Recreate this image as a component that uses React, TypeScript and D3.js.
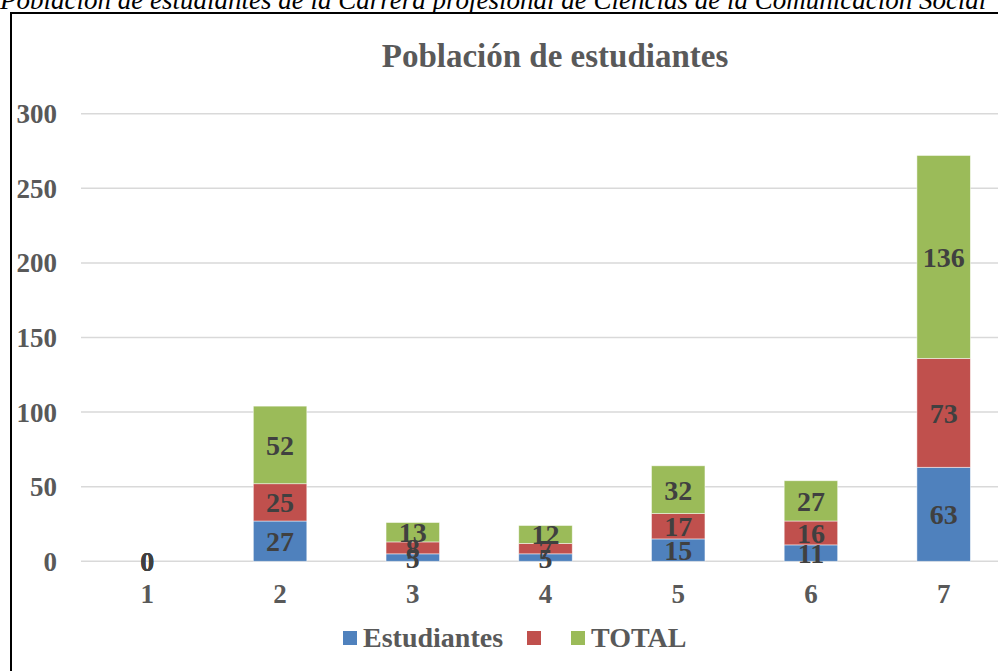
import React from "react"
import * as d3 from "d3"

const categories = ["1", "2", "3", "4", "5", "6", "7"]
const estudiantes = [0, 27, 5, 5, 15, 11, 63]
const serie2 = [0, 25, 8, 7, 17, 16, 73]
const total = [0, 52, 13, 12, 32, 27, 136]
const yTicks = [0, 50, 100, 150, 200, 250, 300]

const seriesKeys = ["Estudiantes", "serie2", "TOTAL"]
const legendLabels = ["Estudiantes", "", "TOTAL"]
const colors = ["#4F81BD", "#C0504D", "#9BBB59"]

const W = 998
const H = 671
const FONT = "'Liberation Serif', 'Times New Roman', serif"

const App = () => {
  const rows = categories.map((c, i) => ({
    cat: c,
    Estudiantes: estudiantes[i],
    serie2: serie2[i],
    TOTAL: total[i],
  }))

  const stacked = d3.stack<any>().keys(seriesKeys)(rows)

  const x = d3
    .scaleBand()
    .domain(categories)
    .range([81, 1010])
    .paddingInner(0.597)
    .paddingOuter(0.2985)

  const y = d3.scaleLinear().domain([0, 300]).range([561.3, 113.7])

  return (
    <svg
      width={W}
      height={H}
      style={{ position: "absolute", left: 0, top: 0, overflow: "hidden" }}
    >
      <rect x={0} y={0} width={W} height={H} fill="#fff" />
      <text
        x={0}
        y={9}
        fontFamily={FONT}
        fontStyle="italic"
        fontSize={27}
        fill="#000"
      >
        Población de estudiantes de la Carrera profesional de Ciencias de la Comunicación Social
      </text>
      <rect
        x={11}
        y={13}
        width={1000}
        height={700}
        fill="#fff"
        stroke="#000"
        strokeWidth={2}
      />
      <text
        x={555}
        y={67}
        textAnchor="middle"
        fontFamily={FONT}
        fontWeight="bold"
        fontSize={33}
        fill="#595959"
      >
        Población de estudiantes
      </text>

      {yTicks.map((t) => (
        <g key={t}>
          <line
            x1={81}
            x2={1010}
            y1={y(t)}
            y2={y(t)}
            stroke="#D9D9D9"
            strokeWidth={1.5}
          />
          <text
            x={57}
            y={y(t) + 9.5}
            textAnchor="end"
            fontFamily={FONT}
            fontWeight="bold"
            fontSize={27}
            fill="#595959"
          >
            {t}
          </text>
        </g>
      ))}

      {stacked.map((s, si) => (
        <g key={s.key}>
          {s.map((d, i) => (
            <rect
              key={i}
              x={x(categories[i])}
              y={y(d[1])}
              width={x.bandwidth()}
              height={y(d[0]) - y(d[1])}
              fill={colors[si]}
              stroke="#fff"
              strokeOpacity={0.6}
              strokeWidth={0.8}
            />
          ))}
        </g>
      ))}

      {stacked.map((s) => (
        <g key={"lab" + s.key}>
          {s.map((d, i) => (
            <text
              key={i}
              x={(x(categories[i]) as number) + x.bandwidth() / 2}
              y={(y(d[0]) + y(d[1])) / 2 + 10}
              textAnchor="middle"
              fontFamily={FONT}
              fontWeight="bold"
              fontSize={28}
              fill="#404040"
            >
              {d[1] - d[0]}
            </text>
          ))}
        </g>
      ))}

      {categories.map((c) => (
        <text
          key={c}
          x={(x(c) as number) + x.bandwidth() / 2}
          y={603}
          textAnchor="middle"
          fontFamily={FONT}
          fontWeight="bold"
          fontSize={27}
          fill="#595959"
        >
          {c}
        </text>
      ))}

      {[343, 527, 571].map((lx, i) => (
        <g key={"leg" + i}>
          <rect x={lx} y={631} width={14} height={14} fill={colors[i]} />
          <text
            x={lx + 20}
            y={647}
            fontFamily={FONT}
            fontWeight="bold"
            fontSize={28}
            fill="#595959"
          >
            {legendLabels[i]}
          </text>
        </g>
      ))}
    </svg>
  )
}

export default App
